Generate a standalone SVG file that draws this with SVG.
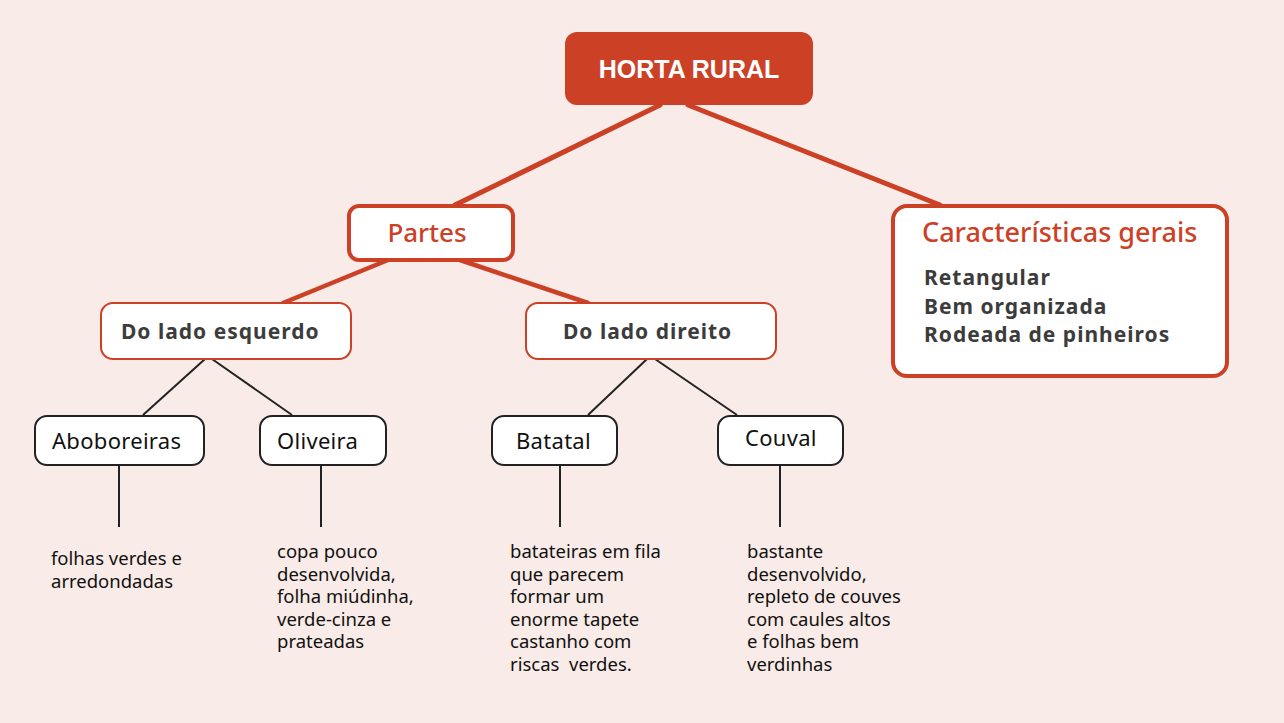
<svg xmlns="http://www.w3.org/2000/svg" width="1284" height="723" viewBox="0 0 1284 723">
<style>
.bg{fill:#f9ebe7}
.red{stroke:#cc4125;fill:none;stroke-linecap:round}
.dark{stroke:#222;fill:none;stroke-width:2}
.box{fill:#fff}
.t{font-family:"Noto Sans","Open Sans",sans-serif}
.h1{font-family:"Liberation Sans",Arial,sans-serif;font-weight:bold;font-size:25px;fill:#fff}
.rt{fill:#cc4125;font-size:26px;font-weight:500}
.bd{fill:#3c3c3c;font-weight:bold;font-size:21px;letter-spacing:1px}
.lf{fill:#111;font-size:22px;letter-spacing:0.3px}
.sm{fill:#111;font-size:18.5px}
</style>
<rect class="bg" x="0" y="0" width="1284" height="723"/>
<g id="connectors">
<line class="red" stroke-width="5" x1="660" y1="105" x2="455" y2="205"/>
<line class="red" stroke-width="5" x1="688" y1="105" x2="940" y2="205"/>
<line class="red" stroke-width="4.5" x1="388" y1="260" x2="283" y2="303"/>
<line class="red" stroke-width="4.5" x1="460" y1="260" x2="588" y2="303"/>
<line class="dark" x1="205" y1="359" x2="143" y2="415"/>
<line class="dark" x1="212" y1="359" x2="292" y2="415"/>
<line class="dark" x1="647" y1="359" x2="588" y2="415"/>
<line class="dark" x1="655" y1="359" x2="737" y2="415"/>
<line class="dark" x1="119" y1="465" x2="119" y2="527"/>
<line class="dark" x1="321" y1="465" x2="321" y2="527"/>
<line class="dark" x1="560" y1="465" x2="560" y2="527"/>
<line class="dark" x1="780" y1="465" x2="780" y2="527"/>
</g>
<g id="horta-rural">
<rect x="565" y="32" width="248" height="73" rx="12" fill="#cc4125"/>
<text class="h1" x="689" y="78" text-anchor="middle">HORTA RURAL</text>
</g>
<g id="partes">
<rect class="box red" stroke-width="4" x="349" y="206" width="164" height="54" rx="10"/>
<text class="t rt" x="427" y="242" text-anchor="middle">Partes</text>
</g>
<g id="caracteristicas">
<rect class="box red" stroke-width="4" x="893" y="206" width="334" height="170" rx="14"/>
<text class="t rt" x="922" y="242" style="font-size:27px">Características gerais</text>
<text class="t bd" x="924" y="285">Retangular</text>
<text class="t bd" x="924" y="314">Bem organizada</text>
<text class="t bd" x="924" y="342">Rodeada de pinheiros</text>
</g>
<g id="esquerdo">
<rect class="box red" stroke-width="2" x="101" y="303" width="250" height="56" rx="12"/>
<text class="t bd" x="121" y="339">Do lado esquerdo</text>
</g>
<g id="direito">
<rect class="box red" stroke-width="2" x="526" y="303" width="250" height="56" rx="12"/>
<text class="t bd" x="563" y="339">Do lado direito</text>
</g>
<g id="aboboreiras">
<rect class="box dark" x="35" y="416" width="169" height="49" rx="12"/>
<text class="t lf" x="52" y="449">Aboboreiras</text>
</g>
<g id="oliveira">
<rect class="box dark" x="260" y="416" width="126" height="49" rx="12"/>
<text class="t lf" x="277" y="449">Oliveira</text>
</g>
<g id="batatal">
<rect class="box dark" x="492" y="416" width="125" height="49" rx="12"/>
<text class="t lf" x="516" y="449">Batatal</text>
</g>
<g id="couval">
<rect class="box dark" x="718" y="416" width="125" height="49" rx="12"/>
<text class="t lf" x="745" y="446">Couval</text>
</g>
<g id="desc-aboboreiras">
<text class="t sm" x="51" y="565">folhas verdes e</text>
<text class="t sm" x="51" y="587.5">arredondadas</text>
</g>
<g id="desc-oliveira">
<text class="t sm" x="277" y="558">copa pouco</text>
<text class="t sm" x="277" y="580.5">desenvolvida,</text>
<text class="t sm" x="277" y="603">folha miúdinha,</text>
<text class="t sm" x="277" y="625.5">verde-cinza e</text>
<text class="t sm" x="277" y="648">prateadas</text>
</g>
<g id="desc-batatal">
<text class="t sm" x="510" y="558">batateiras em fila</text>
<text class="t sm" x="510" y="580.5">que parecem</text>
<text class="t sm" x="510" y="603">formar um</text>
<text class="t sm" x="510" y="625.5">enorme tapete</text>
<text class="t sm" x="510" y="648">castanho com</text>
<text class="t sm" x="510" y="670.5" xml:space="preserve">riscas  verdes.</text>
</g>
<g id="desc-couval">
<text class="t sm" x="747" y="558">bastante</text>
<text class="t sm" x="747" y="580.5">desenvolvido,</text>
<text class="t sm" x="747" y="603">repleto de couves</text>
<text class="t sm" x="747" y="625.5">com caules altos</text>
<text class="t sm" x="747" y="648">e folhas bem</text>
<text class="t sm" x="747" y="670.5">verdinhas</text>
</g>
</svg>
